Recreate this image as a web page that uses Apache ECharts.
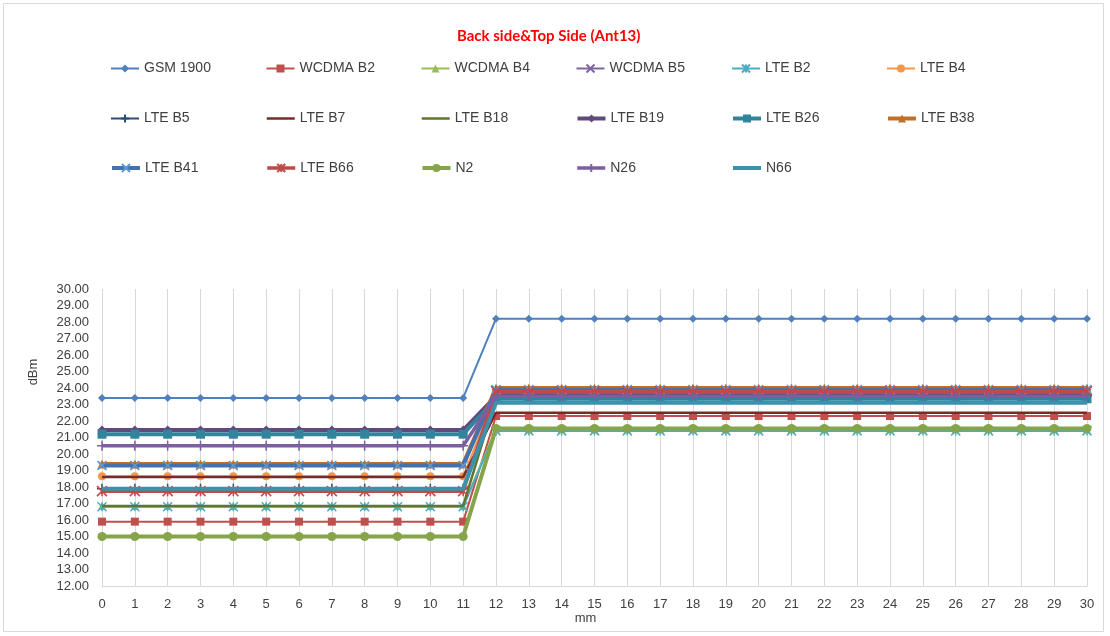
<!DOCTYPE html>
<html>
<head>
<meta charset="utf-8">
<script src="https://cdn.jsdelivr.net/npm/echarts@6/dist/echarts.min.js"></script>
<style>
html,body{margin:0;padding:0;background:#fff;}
#chart{width:1110px;height:636px;}
</style>
</head>
<body>
<div id="chart"></div>
<script>
const categories = ["0","1","2","3","4","5","6","7","8","9","10","11","12","13","14","15","16","17","18","19","20","21","22","23","24","25","26","27","28","29","30"];
const yTicks = [12,30,1];
const seriesNames = ["GSM 1900","WCDMA B2","WCDMA B4","WCDMA B5","LTE B2","LTE B4","LTE B5","LTE B7","LTE B18","LTE B19","LTE B26","LTE B38","LTE B41","LTE B66","N2","N26","N66"];

const gsm1900 = [23.4,23.4,23.4,23.4,23.4,23.4,23.4,23.4,23.4,23.4,23.4,23.4, 28.2,28.2,28.2,28.2,28.2,28.2,28.2,28.2,28.2,28.2,28.2,28.2,28.2,28.2,28.2,28.2,28.2,28.2,28.2];
const wcdmaB2 = [15.9,15.9,15.9,15.9,15.9,15.9,15.9,15.9,15.9,15.9,15.9,15.9, 22.3,22.3,22.3,22.3,22.3,22.3,22.3,22.3,22.3,22.3,22.3,22.3,22.3,22.3,22.3,22.3,22.3,22.3,22.3];
const wcdmaB4 = [16.85,16.85,16.85,16.85,16.85,16.85,16.85,16.85,16.85,16.85,16.85,16.85, 21.5,21.5,21.5,21.5,21.5,21.5,21.5,21.5,21.5,21.5,21.5,21.5,21.5,21.5,21.5,21.5,21.5,21.5,21.5];
const wcdmaB5 = [19.3,19.3,19.3,19.3,19.3,19.3,19.3,19.3,19.3,19.3,19.3,19.3, 23.7,23.7,23.7,23.7,23.7,23.7,23.7,23.7,23.7,23.7,23.7,23.7,23.7,23.7,23.7,23.7,23.7,23.7,23.7];
const lteB2 = [16.8,16.8,16.8,16.8,16.8,16.8,16.8,16.8,16.8,16.8,16.8,16.8, 21.4,21.4,21.4,21.4,21.4,21.4,21.4,21.4,21.4,21.4,21.4,21.4,21.4,21.4,21.4,21.4,21.4,21.4,21.4];
const lteB4 = [18.65,18.65,18.65,18.65,18.65,18.65,18.65,18.65,18.65,18.65,18.65,18.65, 23.6,23.6,23.6,23.6,23.6,23.6,23.6,23.6,23.6,23.6,23.6,23.6,23.6,23.6,23.6,23.6,23.6,23.6,23.6];
const lteB5 = [17.9,17.9,17.9,17.9,17.9,17.9,17.9,17.9,17.9,17.9,17.9,17.9, 23.6,23.6,23.6,23.6,23.6,23.6,23.6,23.6,23.6,23.6,23.6,23.6,23.6,23.6,23.6,23.6,23.6,23.6,23.6];
const lteB7 = [18.6,18.6,18.6,18.6,18.6,18.6,18.6,18.6,18.6,18.6,18.6,18.6, 22.5,22.5,22.5,22.5,22.5,22.5,22.5,22.5,22.5,22.5,22.5,22.5,22.5,22.5,22.5,22.5,22.5,22.5,22.5];
const lteB18 = [16.85,16.85,16.85,16.85,16.85,16.85,16.85,16.85,16.85,16.85,16.85,16.85, 23.4,23.4,23.4,23.4,23.4,23.4,23.4,23.4,23.4,23.4,23.4,23.4,23.4,23.4,23.4,23.4,23.4,23.4,23.4];
const lteB19 = [21.45,21.45,21.45,21.45,21.45,21.45,21.45,21.45,21.45,21.45,21.45,21.45, 23.5,23.5,23.5,23.5,23.5,23.5,23.5,23.5,23.5,23.5,23.5,23.5,23.5,23.5,23.5,23.5,23.5,23.5,23.5];
const lteB26 = [21.2,21.2,21.2,21.2,21.2,21.2,21.2,21.2,21.2,21.2,21.2,21.2, 23.35,23.35,23.35,23.35,23.35,23.35,23.35,23.35,23.35,23.35,23.35,23.35,23.35,23.35,23.35,23.35,23.35,23.35,23.35];
const lteB38 = [19.4,19.4,19.4,19.4,19.4,19.4,19.4,19.4,19.4,19.4,19.4,19.4, 24.0,24.0,24.0,24.0,24.0,24.0,24.0,24.0,24.0,24.0,24.0,24.0,24.0,24.0,24.0,24.0,24.0,24.0,24.0];
const lteB41 = [19.3,19.3,19.3,19.3,19.3,19.3,19.3,19.3,19.3,19.3,19.3,19.3, 23.9,23.9,23.9,23.9,23.9,23.9,23.9,23.9,23.9,23.9,23.9,23.9,23.9,23.9,23.9,23.9,23.9,23.9,23.9];
const lteB66 = [17.75,17.75,17.75,17.75,17.75,17.75,17.75,17.75,17.75,17.75,17.75,17.75, 23.8,23.8,23.8,23.8,23.8,23.8,23.8,23.8,23.8,23.8,23.8,23.8,23.8,23.8,23.8,23.8,23.8,23.8,23.8];
const n2 = [15.0,15.0,15.0,15.0,15.0,15.0,15.0,15.0,15.0,15.0,15.0,15.0, 21.55,21.55,21.55,21.55,21.55,21.55,21.55,21.55,21.55,21.55,21.55,21.55,21.55,21.55,21.55,21.55,21.55,21.55,21.55];
const n26 = [20.5,20.5,20.5,20.5,20.5,20.5,20.5,20.5,20.5,20.5,20.5,20.5, 23.5,23.5,23.5,23.5,23.5,23.5,23.5,23.5,23.5,23.5,23.5,23.5,23.5,23.5,23.5,23.5,23.5,23.5,23.5];
const n66 = [17.9,17.9,17.9,17.9,17.9,17.9,17.9,17.9,17.9,17.9,17.9,17.9, 23.1,23.1,23.1,23.1,23.1,23.1,23.1,23.1,23.1,23.1,23.1,23.1,23.1,23.1,23.1,23.1,23.1,23.1,23.1];

const seriesData = [gsm1900,wcdmaB2,wcdmaB4,wcdmaB5,lteB2,lteB4,lteB5,lteB7,lteB18,lteB19,lteB26,lteB38,lteB41,lteB66,n2,n26,n66];

const X_PATH = 'path://M0,0L10,10M10,0L0,10';
const STAR_PATH = 'path://M0,0L10,10M10,0L0,10M5,0L5,10';
const PLUS_PATH = 'path://M5,0L5,10M0,5L10,5';
const NONE_PATH = 'path://M0,0L10,10';
const styles = [
  {color:'#4F81BD', symbol:'diamond', size:8, width:2},
  {color:'#C0504D', symbol:'rect', size:8, width:2},
  {color:'#9BBB59', symbol:'triangle', size:8, width:2},
  {color:'#8064A2', symbol:X_PATH, size:8, width:2, stroke:true},
  {color:'#4BACC6', symbol:STAR_PATH, size:9, width:2, stroke:true},
  {color:'#F79646', symbol:'circle', size:8, width:2},
  {color:'#2C4D75', symbol:PLUS_PATH, size:10, width:2, stroke:true},
  {color:'#772C2A', symbol:null, size:0, width:2.5},
  {color:'#5F7530', symbol:null, size:0, width:2.5},
  {color:'#604A7B', symbol:'diamond', size:9, width:4},
  {color:'#31849B', symbol:'rect', size:9, width:4},
  {color:'#C0702A', symbol:'triangle', size:9, width:4},
  {color:'#4472AE', symbol:X_PATH, size:9, width:4, stroke:true, markerColor:'#5B9BD5'},
  {color:'#BE4B48', symbol:STAR_PATH, size:10, width:3.5, stroke:true},
  {color:'#86A54A', symbol:'circle', size:9, width:4},
  {color:'#7B5FA0', symbol:PLUS_PATH, size:10, width:3.5, stroke:true},
  {color:'#3A93AE', symbol:null, size:0, width:4}
];

const series = seriesNames.map((name,i)=>{
  const s = styles[i];
  const mc = s.markerColor || s.color;
  const hasSym = !!s.symbol;
  let itemStyle;
  if (!hasSym) itemStyle = {color: s.color, borderColor: 'rgba(0,0,0,0)', borderWidth: 0};
  else if (s.stroke) itemStyle = {color: mc, borderColor: mc, borderWidth: 1.5};
  else itemStyle = {color: mc, borderWidth: 0};
  return {
    name: name,
    type: 'line',
    data: seriesData[i],
    symbol: hasSym ? s.symbol : NONE_PATH,
    symbolSize: hasSym ? s.size : 1,
    showSymbol: hasSym,
    lineStyle: {color: s.color, width: s.width},
    itemStyle: itemStyle,
    color: s.color,
    emphasis: {disabled: true},
    animation: false,
    z: 2 + i
  };
});

const FONT = 'Liberation Sans, Arial, sans-serif';
const legendCols = [110, 265.5, 420.5, 575.5, 731, 886];
const legendRows = [61.5, 111.5, 161];
const legends = seriesNames.map((name,i)=>({
  data: [name],
  left: legendCols[i % 6],
  top: legendRows[Math.floor(i / 6)],
  padding: 0,
  itemWidth: 28,
  itemHeight: 10,
  lineStyle: {width: 'inherit'},
  textStyle: {fontFamily: FONT, fontSize: 14, color: '#404040'},
  selectedMode: false
}));

const chart = echarts.init(document.getElementById('chart'), null, {renderer:'canvas'});
chart.setOption({
  backgroundColor: '#ffffff',
  animation: false,
  title: {
    text: 'Back side&Top Side (Ant13)',
    left: 452,
    top: 24,
    textStyle: {fontFamily: 'Lato, Open Sans, sans-serif', fontWeight: 'bold', fontSize: 15, color: '#FF0000'}
  },
  legend: legends,
  grid: {left: 102, right: 23, top: 289, bottom: 50, containLabel: false},
  xAxis: {
    type: 'category',
    data: categories,
    boundaryGap: false,
    name: 'mm',
    nameLocation: 'middle',
    nameGap: 22,
    nameTextStyle: {fontFamily: FONT, fontSize: 13, color: '#404040', padding: [0,18,0,0]},
    axisLine: {show: true, lineStyle: {color: '#d9d9d9', width: 1}},
    axisTick: {show: false},
    axisLabel: {fontFamily: FONT, fontSize: 13, color: '#404040', margin: 12, interval: 0},
    splitLine: {show: true, lineStyle: {color: '#d9d9d9', width: 1}}
  },
  yAxis: {
    type: 'value',
    min: yTicks[0],
    max: yTicks[1],
    interval: yTicks[2],
    axisLine: {show: false},
    axisTick: {show: false},
    axisLabel: {fontFamily: FONT, fontSize: 13, color: '#404040', margin: 13, formatter: v => v.toFixed(2)},
    splitLine: {show: false}
  },
  graphic: [
    {type: 'rect', shape: {x: 3.5, y: 3.5, width: 1100, height: 628}, style: {fill: 'none', stroke: '#d9d9d9', lineWidth: 1}, silent: true, z: -1},
    {type: 'text', x: 33, y: 372, rotation: Math.PI/2, style: {text: 'dBm', font: '13px Liberation Sans, Arial, sans-serif', fill: '#404040', textAlign: 'center', textVerticalAlign: 'middle'}, silent: true}
  ],
  series: series
});
</script>
</body>
</html>
